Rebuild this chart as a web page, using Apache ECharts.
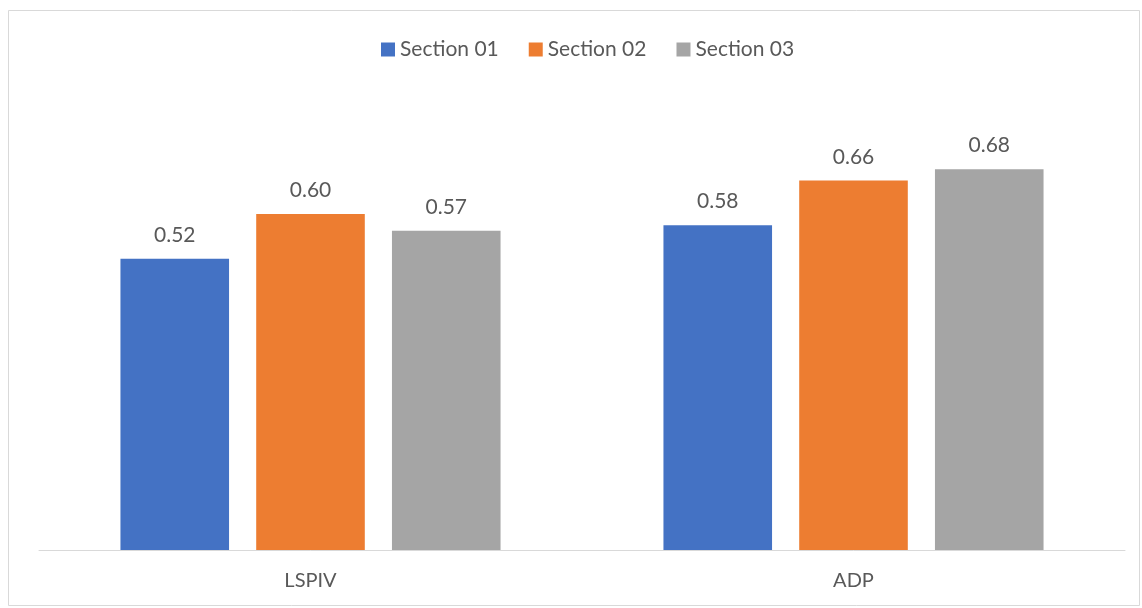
<!DOCTYPE html>
<html>
<head>
<meta charset="utf-8">
<script src="https://cdn.jsdelivr.net/npm/echarts@6/dist/echarts.min.js"></script>
<style>
  html, body { margin: 0; padding: 0; background: #ffffff; }
  #chart { width: 1142px; height: 608px; }
</style>
</head>
<body>
<div id="chart"></div>
<script>
// Categories and per-section values
const categories = ['LSPIV', 'ADP'];
const seriesNames = ['Section 01', 'Section 02', 'Section 03'];
const section01 = [0.52, 0.58];
const section02 = [0.60, 0.66];
const section03 = [0.57, 0.68];
const colors = ['#4472c4', '#ed7d31', '#a5a5a5'];

const font = 'Lato, "Open Sans", sans-serif';
const textColor = '#595959';

const chart = echarts.init(document.getElementById('chart'), null, { renderer: 'canvas' });

const values = [section01, section02, section03];
const series = seriesNames.map((name, i) => ({
  name: name,
  type: 'bar',
  data: values[i],
  barGap: '25%',
  barCategoryGap: '30%',
  itemStyle: { color: colors[i] },
  label: {
    show: true,
    position: 'top',
    distance: 13,
    color: textColor,
    fontFamily: font,
    fontSize: 21,
    formatter: p => p.value.toFixed(2)
  }
}));

chart.setOption({
  animation: false,
  backgroundColor: '#ffffff',
  graphic: [{
    type: 'rect',
    shape: { x: 8.5, y: 10.5, width: 1131, height: 595 },
    style: { fill: 'none', stroke: '#d9d9d9', lineWidth: 1 },
    silent: true
  }],
  legend: {
    data: seriesNames,
    top: 34,
    left: 376,
    itemWidth: 14,
    itemHeight: 14,
    itemGap: 30,
    icon: 'rect',
    textStyle: { color: textColor, fontFamily: font, fontSize: 21 }
  },
  grid: { left: 39, right: 17, top: 102, bottom: 58 },
  xAxis: {
    type: 'category',
    data: categories,
    axisLine: { lineStyle: { color: '#d9d9d9', width: 1 } },
    axisTick: { show: false },
    axisLabel: { color: textColor, fontFamily: font, fontSize: 20, margin: 21 }
  },
  yAxis: {
    type: 'value',
    min: 0,
    max: 0.8,
    interval: 0.1,
    show: false,
    splitLine: { show: false }
  },
  series: series
});
</script>
</body>
</html>
